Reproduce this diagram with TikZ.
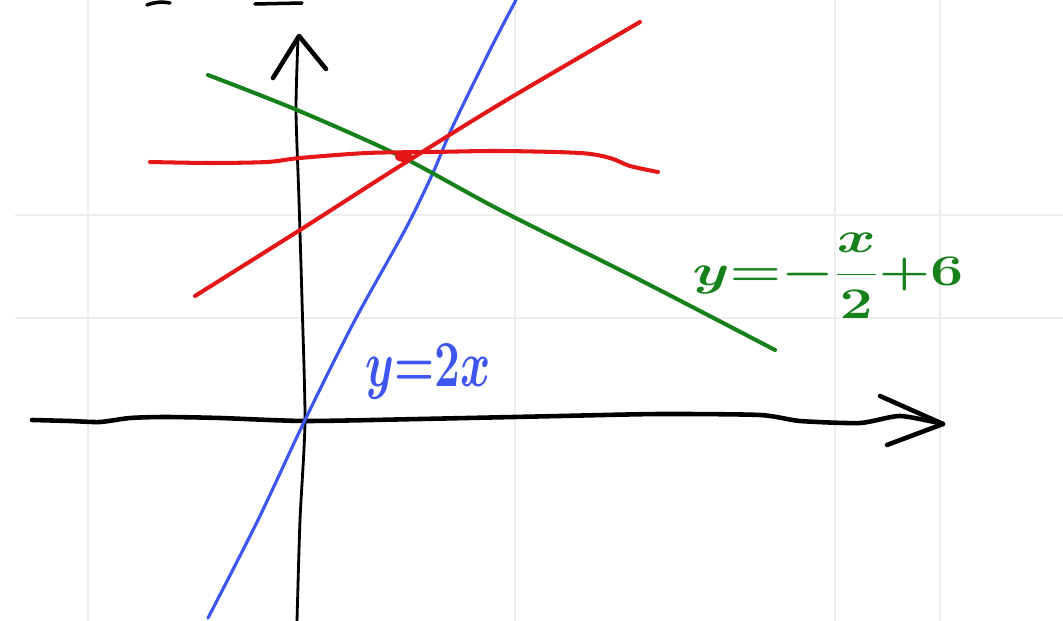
\documentclass[tikz,border=0pt]{standalone}
\usepackage{amsmath,amssymb}
\usepackage{xcolor}
\usepackage{tikz}
\usetikzlibrary{positioning}

\definecolor{penred}{RGB}{228,22,24}
\definecolor{penblue}{RGB}{62,86,240}
\definecolor{pengreen}{RGB}{22,128,26}

\begin{document}
\begin{tikzpicture}[
    x=0.02cm, y=-0.02cm,
    pen/.style={line width=2.3pt, line cap=round, line join=round},
    axis/.style={pen, draw=black, line width=2.6pt},
    gridline/.style={draw=black!7, line width=0.8pt},
    handlabel/.style={inner sep=0pt, font=\Huge\boldmath}
]
\useasboundingbox (0,0) rectangle (1063,621);

% faint paper grid
\foreach \gx in {88,515,835,940}
    \draw[gridline] (\gx,0) -- (\gx,621);
\foreach \gy in {215,318}
    \draw[gridline] (15,\gy) -- (1063,\gy);

% cut-off strokes at the top edge
\draw[axis, line width=2pt] (147,5) to[bend left=15] (170,3);
\draw[axis, line width=2pt] (255,4) -- (302,3);

% Axes
\draw[axis] plot[smooth, tension=0.4] coordinates {(32,420) (70,421) (100,422) (130,418) (165,417) (220,418) (305,421) (420,419) (560,416) (660,414) (760,415) (800,421) (860,423) (900,416) (943,424)};
\draw[axis] (880,396) -- (943,424) -- (887,445);
\draw[axis, line width=1.6pt] plot[smooth, tension=0.4] coordinates {(297,621) (300,520) (305,421) (302,300) (299,200) (296,110) (298,38)};
\draw[axis] (273,78) -- (299,36) -- (326,69);

% blue line y = 2x
\draw[pen, draw=penblue, line width=1.8pt] plot[smooth, tension=0.5] coordinates {(208,618) (258,520) (305,420) (355,320) (405,230) (432,175) (452,128) (490,50) (516,0)};

% green line y = -x/2 + 6
\draw[pen, draw=pengreen] plot[smooth, tension=0.5] coordinates {(208,75) (297,110) (400,156) (500,210) (640,280) (775,350)};

% red lines
\draw[pen, draw=penred] plot[smooth, tension=0.5] coordinates {(150,162) (210,163) (267,162) (300,158) (367,153) (433,152) (500,151) (580,153) (610,158) (630,166) (658,172)};
\draw[pen, draw=penred] plot[smooth, tension=0.5] coordinates {(195,296) (300,230) (400,166) (500,104) (640,22)};
\fill[penred] (404,157) ellipse [x radius=9, y radius=5];

% labels
\node[handlabel, text=penblue, xscale=1.05, yscale=1.5] (lblblue) at (428,372) {$y{=}2x$};
\node[handlabel, text=pengreen, xscale=1.35] (lblgreen) at (828,276) {$y{=}{-}\dfrac{x}{2}{+}6$};
\end{tikzpicture}
\end{document}
